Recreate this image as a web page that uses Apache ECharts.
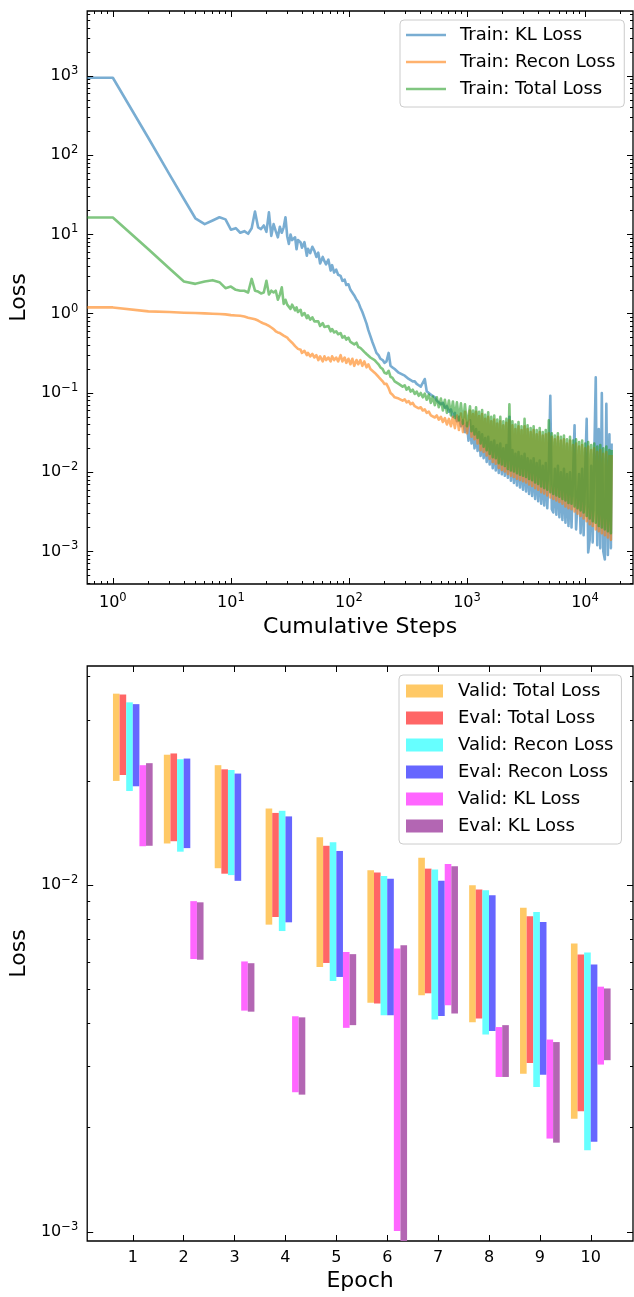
<!DOCTYPE html>
<html><head><meta charset="utf-8">
<script src="https://cdn.jsdelivr.net/npm/echarts@6/dist/echarts.min.js"></script>
<style>html,body{margin:0;padding:0;background:#fff;}#c{width:634px;height:1297px;}</style>
</head><body><div id="c"></div>
<script>
// ---------------- Top panel: training losses vs cumulative steps ----------------
const steps = [0,1,2,3,4,5,6,7,8,9,10,11,12,13,14,15,16,17,18,19,20,21,22,23,24,25,26,27,28,29,30,
31,32,33,35,36,37,39,40,42,44,45,47,49,51,53,55,57,60,62,64,67,70,72,75,78,81,85,88,92,95,
99,103,107,111,116,120,125,130,135,141,146,152,158,165,171,178,185,193,200,208,217,225,234,244,253,264,274,285,297,308,
321,333,347,361,375,390,406,422,439,456,475,494,513,534,555,577,601,625,650,676,703,731,760,790,822,855,889,925,962,1000,
1030,1061,1093,1126,1159,1194,1230,1267,1305,1344,1384,1426,1469,1513,1558,1605,1653,1702,1754,1806,
1860,1916,1974,2033,2094,2157,2221,2288,2357,2427,2500,2575,2652,2732,2814,2898,2985,3075,3167,3262,
3360,3461,3564,3671,3781,3895,4012,4132,4256,4384,4515,4651,4790,4934,5082,5234,5391,5553,5720,5891,
6068,6250,6437,6631,6829,7034,7245,7463,7687,7917,8155,8399,8651,8911,9178,9454,9737,10030,10330,10640,
10960,11290,11620,11970,12330,12700,13080,13470,13880,14290,14720,15160,15620,16090,16570,16800];

const trainKL = [950,950,165,58,28,16,13.5,15,16.5,15.5,11.5,12,10.5,11,10.2,12,19.5,12.3,11.7,13,10.8,19,9.6,13.5,11,9.2,12.5,10.5,12.3,16.5,9.5,
7.6,10,8.5,9.2,6.5,8.5,7.9,6.8,8,5.4,6.6,5.8,7,6.2,5.2,5.9,4.3,5.2,4.6,4.2,4.8,3.5,4.1,3.3,3.6,3.1,3.0,2.6,2.7,2.3,
2.35,2.0,1.95,1.7,1.5,1.4,1.2,1.05,0.9,0.75,0.62,0.52,0.44,0.37,0.32,0.3,0.27,0.26,0.24,0.25,0.32,0.22,0.21,0.2,0.21,0.18,0.19,0.17,0.165,0.17,
0.15,0.155,0.14,0.14,0.13,0.125,0.12,0.115,0.15,0.105,0.1,0.095,0.09,0.088,0.08,0.082,0.072,0.075,0.065,0.068,0.058,0.062,0.05,0.056,0.044,0.05,0.038,0.045,0.032,0.042,
0.025,0.045,0.023,0.038,0.02,0.035,0.0185,0.032,0.016,0.03,
0.015,0.027,0.0135,0.028,0.0125,0.024,0.0112,0.025,0.0105,0.022,
0.0098,0.023,0.0094,0.02,0.009,0.022,0.0085,0.05,0.0078,0.019,
0.0073,0.017,0.0068,0.018,0.0064,0.016,0.006,0.017,0.0057,0.015,
0.0053,0.014,0.005,0.015,0.0046,0.013,0.0043,0.014,0.004,0.012,
0.0038,0.013,0.0035,0.011,0.092,0.0034,0.0031,0.011,0.0029,0.012,
0.0027,0.01,0.0025,0.011,0.0023,0.0095,0.0021,0.01,0.002,0.009,
0.039,0.0019,0.0018,0.0095,0.0017,0.011,0.0016,0.01,0.047,0.00097,
0.0014,0.012,0.0013,0.015,0.157,0.0012,0.035,0.0011,0.1,0.001,
0.00079,0.073,0.0009,0.03,0.0011,0.023];

const trainRecon = [1.2,1.2,1.07,1.05,1.03,1.02,1.01,1.0,0.99,0.98,0.96,0.95,0.94,0.92,0.89,0.87,0.85,0.82,0.78,0.75,0.73,0.7,0.67,0.64,0.6,0.58,0.57,0.55,0.53,0.51,0.5,
0.47,0.45,0.43,0.39,0.41,0.36,0.35,0.32,0.34,0.3,0.32,0.29,0.31,0.28,0.3,0.26,0.29,0.25,0.29,0.26,0.28,0.25,0.29,0.26,0.28,0.25,0.3,0.25,0.28,0.24,
0.27,0.23,0.27,0.22,0.26,0.23,0.26,0.22,0.25,0.21,0.23,0.2,0.21,0.18,0.19,0.16,0.16,0.14,0.13,0.13,0.115,0.1,0.095,0.088,0.092,0.085,0.088,0.08,0.083,0.076,
0.079,0.072,0.075,0.068,0.07,0.064,0.066,0.06,0.062,0.056,0.058,0.052,0.055,0.049,0.052,0.046,0.05,0.043,0.048,0.04,0.047,0.038,0.05,0.036,0.052,0.034,0.055,0.032,0.058,0.031,
0.031,0.06,0.028,0.054,0.026,0.058,0.023,0.051,0.019,0.054,
0.018,0.047,0.0163,0.05,0.0148,0.044,0.0135,0.046,0.0128,0.041,
0.0113,0.044,0.0107,0.039,0.0102,0.042,0.0095,0.045,0.009,0.039,
0.0087,0.035,0.0083,0.038,0.008,0.034,0.0077,0.038,0.0074,0.035,
0.007,0.032,0.0067,0.034,0.0063,0.03,0.006,0.032,0.0056,0.029,
0.0054,0.03,0.0051,0.031,0.0048,0.028,0.0046,0.026,0.0044,0.028,
0.0042,0.025,0.004,0.026,0.0037,0.023,0.0035,0.025,0.0034,0.022,
0.0032,0.023,0.003,0.021,0.0028,0.022,0.0026,0.02,0.0024,0.021,
0.0022,0.019,0.0021,0.02,0.0019,0.018,0.0018,0.019,0.0017,0.017,
0.0016,0.018,0.0015,0.016,0.0014,0.0165];

const trainTotal = [16.4,16.4,6.5,3.75,2.55,2.38,2.55,2.65,2.5,2.1,2.2,2.0,1.95,1.95,1.85,2.75,1.95,1.9,1.8,1.85,2.6,1.75,1.95,1.85,1.95,1.5,1.75,2.15,1.33,1.5,1.3,
1.25,1.15,1.3,1.1,1.2,1.05,1.12,0.95,1.02,0.88,0.95,0.84,0.9,0.8,0.76,0.8,0.7,0.76,0.68,0.66,0.7,0.6,0.64,0.58,0.6,0.55,0.57,0.5,0.52,0.47,
0.5,0.44,0.46,0.41,0.43,0.38,0.37,0.35,0.33,0.31,0.3,0.28,0.275,0.26,0.245,0.23,0.21,0.2,0.18,0.175,0.19,0.16,0.155,0.14,0.145,0.13,0.135,0.12,0.125,0.11,
0.118,0.104,0.11,0.097,0.104,0.092,0.1,0.088,0.098,0.082,0.095,0.075,0.09,0.07,0.088,0.066,0.085,0.06,0.082,0.056,0.08,0.052,0.078,0.048,0.076,0.045,0.074,0.041,0.072,0.038,
0.036,0.068,0.033,0.06,0.03,0.066,0.027,0.058,0.023,0.061,
0.021,0.053,0.019,0.057,0.017,0.05,0.0155,0.052,0.015,0.046,
0.013,0.05,0.0125,0.044,0.012,0.047,0.011,0.072,0.0105,0.044,
0.0102,0.04,0.0097,0.043,0.0093,0.038,0.009,0.047,0.0087,0.039,
0.0082,0.036,0.0079,0.038,0.0074,0.034,0.0071,0.036,0.0066,0.032,
0.0063,0.034,0.006,0.045,0.0056,0.031,0.0053,0.029,0.0051,0.031,
0.0049,0.028,0.0046,0.029,0.0044,0.026,0.0041,0.028,0.004,0.025,
0.0037,0.026,0.0035,0.024,0.0033,0.025,0.0031,0.023,0.0028,0.024,
0.0026,0.022,0.0024,0.023,0.0023,0.021,0.0021,0.022,0.002,0.02,
0.0019,0.021,0.0018,0.019,0.0017,0.019];

const topXTicks = [1, 10, 100, 1000, 10000];
const topXMinorTicks = [0.7,0.8,0.9,2,3,4,5,6,7,8,9,20,30,40,50,60,70,80,90,200,300,400,500,600,700,800,900,
  2000,3000,4000,5000,6000,7000,8000,9000,20000];
const topYTicks = [0.001, 0.01, 0.1, 1, 10, 100, 1000];
const topYMinorTicks = [0.0004,0.0005,0.0006,0.0007,0.0008,0.0009,0.002,0.003,0.004,0.005,0.006,0.007,0.008,0.009,
  0.02,0.03,0.04,0.05,0.06,0.07,0.08,0.09,0.2,0.3,0.4,0.5,0.6,0.7,0.8,0.9,2,3,4,5,6,7,8,9,
  20,30,40,50,60,70,80,90,200,300,400,500,600,700,800,900,2000,3000,4000,5000,6000];

// ---------------- Bottom panel: per-epoch loss ranges ----------------
const epochs = [1,2,3,4,5,6,7,8,9,10];
const validTotalLow  = [0.0200,0.0132,0.0112,0.0077,0.00581,0.00458,0.00482,0.00403,0.00286,0.00212];
const validTotalHigh = [0.0357,0.0238,0.0222,0.01665,0.01375,0.01105,0.0120,0.0100,0.00862,0.00679];
const evalTotalLow   = [0.0208,0.0134,0.0108,0.0081,0.00597,0.00456,0.00488,0.00413,0.00307,0.00223];
const evalTotalHigh  = [0.0355,0.0240,0.0216,0.01617,0.0130,0.01088,0.01117,0.00972,0.00814,0.00632];
const validReconLow  = [0.0187,0.0125,0.0107,0.00738,0.0053,0.00422,0.0041,0.00371,0.00262,0.00172];
const validReconHigh = [0.0337,0.0231,0.0215,0.0164,0.0133,0.01064,0.0111,0.00967,0.00838,0.0064];
const evalReconLow   = [0.0193,0.0128,0.0103,0.00782,0.00544,0.00422,0.0042,0.0038,0.00284,0.00182];
const evalReconHigh  = [0.0333,0.0232,0.021,0.0158,0.01256,0.01045,0.0103,0.00936,0.00784,0.00591];
const validKLLow     = [0.01296,0.00613,0.00435,0.00253,0.00388,0.001007,0.00451,0.0028,0.00186,0.00304];
const validKLHigh    = [0.0222,0.009,0.00603,0.00419,0.00642,0.00657,0.01152,0.0039,0.00359,0.0051];
const evalKLLow      = [0.013,0.0061,0.00432,0.00249,0.00395,0.0008,0.00427,0.0028,0.00181,0.00313];
const evalKLHigh     = [0.0225,0.00893,0.00596,0.00416,0.00633,0.00671,0.01134,0.00395,0.00353,0.00504];

const botYTicks = [0.001, 0.01];
const botYMinorTicks = [0.002,0.003,0.004,0.005,0.006,0.007,0.008,0.009,0.02,0.03,0.04];

// ---------------- styling / layout ----------------
const FONT = 'DejaVu Sans';
const TOP_X = [0.6065, 25500], TOP_Y = [0.000388, 6607];
const BOT_X = [0.104, 10.83], BOT_Y = [0.000942, 0.0429];
const BAR_W = 0.13;

const supRich = {
  b: {fontSize: 16, fontFamily: FONT, color: '#000'},
  s: {fontSize: 11.5, fontFamily: FONT, color: '#000', padding: [0, 0, 10, 0]}
};
function pow10Label(v) {
  const e = Math.round(Math.log10(v));
  return '{b|10}{s|' + (e < 0 ? '\u2212' + (-e) : String(e)) + '}';
}
const tickLine = {color: '#000', width: 1};

function axis(o) {
  const a = {
    type: o.type || 'log', gridIndex: o.grid, position: o.pos,
    min: o.range[0], max: o.range[1], logBase: 10,
    axisLine: {show: false, onZero: false},
    splitLine: {show: false}, minorTick: {show: false}, minorSplitLine: {show: false},
    axisTick: {show: true, inside: true, length: o.len, lineStyle: tickLine, customValues: o.ticks},
    axisLabel: {show: !!o.labels},
    z: 5
  };
  if (a.type !== 'log') delete a.logBase;
  if (o.labels) {
    a.axisLabel = Object.assign({show: true, customValues: o.ticks, margin: o.margin,
      color: '#000', fontFamily: FONT, fontSize: 16}, o.labels);
  }
  if (o.name) {
    Object.assign(a, {name: o.name, nameLocation: 'middle', nameGap: o.nameGap,
      nameTextStyle: {fontSize: 22, fontFamily: FONT, color: '#000'}});
  }
  return a;
}

const xAxes = [
  axis({grid: 0, pos: 'bottom', range: TOP_X, ticks: topXTicks, len: 6, margin: 8,
        labels: {formatter: pow10Label, rich: supRich}, name: 'Cumulative Steps', nameGap: 32}),
  axis({grid: 0, pos: 'bottom', range: TOP_X, ticks: topXMinorTicks, len: 3}),
  axis({grid: 0, pos: 'top', range: TOP_X, ticks: topXTicks, len: 6}),
  axis({grid: 0, pos: 'top', range: TOP_X, ticks: topXMinorTicks, len: 3}),
  axis({type: 'value', grid: 1, pos: 'bottom', range: BOT_X, ticks: epochs, len: 6, margin: 9,
        labels: {formatter: v => String(v)}, name: 'Epoch', nameGap: 29}),
  axis({type: 'value', grid: 1, pos: 'top', range: BOT_X, ticks: epochs, len: 6})
];
const yAxes = [
  axis({grid: 0, pos: 'left', range: TOP_Y, ticks: topYTicks, len: 6, margin: 9,
        labels: {formatter: pow10Label, rich: supRich}, name: 'Loss', nameGap: 52}),
  axis({grid: 0, pos: 'left', range: TOP_Y, ticks: topYMinorTicks, len: 3}),
  axis({grid: 0, pos: 'right', range: TOP_Y, ticks: topYTicks, len: 6}),
  axis({grid: 0, pos: 'right', range: TOP_Y, ticks: topYMinorTicks, len: 3}),
  axis({grid: 1, pos: 'left', range: BOT_Y, ticks: botYTicks, len: 6, margin: 9,
        labels: {formatter: pow10Label, rich: supRich}, name: 'Loss', nameGap: 52}),
  axis({grid: 1, pos: 'left', range: BOT_Y, ticks: botYMinorTicks, len: 3}),
  axis({grid: 1, pos: 'right', range: BOT_Y, ticks: botYTicks, len: 6}),
  axis({grid: 1, pos: 'right', range: BOT_Y, ticks: botYMinorTicks, len: 3})
];

function lineSeries(name, color, values) {
  return {
    name, type: 'line', xAxisIndex: 0, yAxisIndex: 0, symbol: 'none', showSymbol: false,
    clip: true, animation: false,
    lineStyle: {color, width: 2.6, join: 'round', cap: 'butt'},
    itemStyle: {color},
    // step 0 cannot sit on a log axis; clip it to the axis start as matplotlib does
    data: steps.map((s, i) => [Math.max(s, TOP_X[0]), values[i]])
  };
}

function rangeBars(name, color, slot, lows, highs) {
  return {
    name, type: 'custom', xAxisIndex: 4, yAxisIndex: 4, clip: true,
    itemStyle: {color},
    encode: {x: 0, y: [1, 2]},
    data: epochs.map((e, i) => [e, lows[i], highs[i]]),
    renderItem: (params, api) => {
      const c = api.value(0) + (slot - 2.5) * BAR_W;
      const p0 = api.coord([c - BAR_W / 2, api.value(2)]);
      const p1 = api.coord([c + BAR_W / 2, api.value(1)]);
      return {type: 'rect', shape: {x: p0[0], y: p0[1], width: p1[0] - p0[0], height: p1[1] - p0[1]},
              style: api.style()};
    }
  };
}

const legendBase = {
  orient: 'vertical', borderColor: '#cccccc', borderWidth: 1, borderRadius: 4,
  backgroundColor: 'rgba(255,255,255,0.8)',
  textStyle: {fontSize: 18, fontFamily: FONT, color: '#000', lineHeight: 18},
  itemGap: 9
};

const option = {
  animation: false,
  backgroundColor: '#fff',
  grid: [
    {left: 86, right: 1, top: 11, height: 573, show: true, borderColor: '#000', borderWidth: 1.3, backgroundColor: 'transparent'},
    {left: 86, right: 1, top: 666, height: 575, show: true, borderColor: '#000', borderWidth: 1.3, backgroundColor: 'transparent'}
  ],
  xAxis: xAxes,
  yAxis: yAxes,
  legend: [
    Object.assign({}, legendBase, {
      left: 400, top: 20, padding: [6, 9, 9, 6], itemWidth: 40, itemHeight: 2.6, icon: 'rect',
      data: ['Train: KL Loss', 'Train: Recon Loss', 'Train: Total Loss'],
      textStyle: Object.assign({}, legendBase.textStyle, {padding: [0, 0, 0, 9]})
    }),
    Object.assign({}, legendBase, {
      left: 399, top: 675, padding: [7, 8, 9, 7], itemWidth: 37, itemHeight: 13, icon: 'rect',
      data: ['Valid: Total Loss', 'Eval: Total Loss', 'Valid: Recon Loss', 'Eval: Recon Loss', 'Valid: KL Loss', 'Eval: KL Loss'],
      textStyle: Object.assign({}, legendBase.textStyle, {padding: [0, 0, 0, 10]})
    })
  ],
  series: [
    lineSeries('Train: KL Loss', 'rgba(31,119,180,0.6)', trainKL),
    lineSeries('Train: Recon Loss', 'rgba(255,127,14,0.6)', trainRecon),
    lineSeries('Train: Total Loss', 'rgba(44,160,44,0.6)', trainTotal),
    rangeBars('Valid: Total Loss', '#ffc966', 0, validTotalLow, validTotalHigh),
    rangeBars('Eval: Total Loss', '#ff6666', 1, evalTotalLow, evalTotalHigh),
    rangeBars('Valid: Recon Loss', '#66ffff', 2, validReconLow, validReconHigh),
    rangeBars('Eval: Recon Loss', '#6666ff', 3, evalReconLow, evalReconHigh),
    rangeBars('Valid: KL Loss', '#ff66ff', 4, validKLLow, validKLHigh),
    rangeBars('Eval: KL Loss', '#b366b3', 5, evalKLLow, evalKLHigh)
  ]
};

const chart = echarts.init(document.getElementById('c'), null, {renderer: 'canvas'});
chart.setOption(option);
</script></body></html>
